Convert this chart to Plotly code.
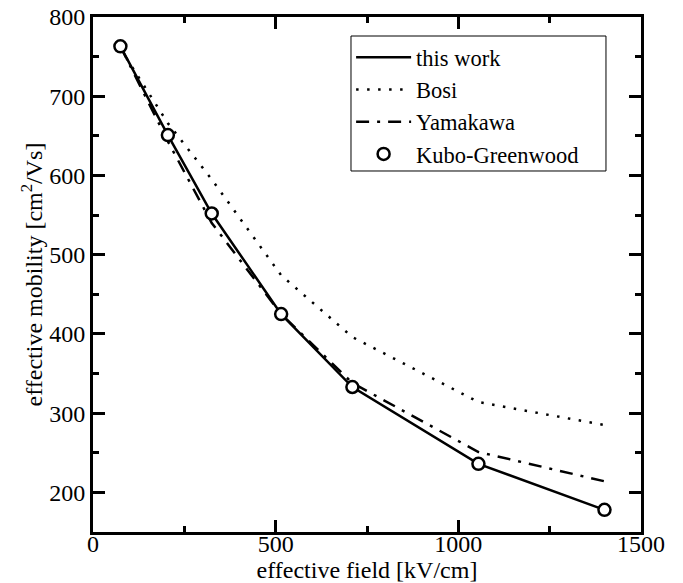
import plotly.graph_objects as go

# Data
field = [75, 205, 325, 515, 710, 1055, 1400]
this_work = [763, 651, 552, 425, 333, 236, 178]
bosi = [760, 666, 595, 474, 396, 314, 285]
yamakawa = [763, 643, 540, 425, 338, 251, 214]
kubo_greenwood = [763, 651, 552, 425, 333, 236, 178]

x_ticks = [0, 500, 1000, 1500]
y_ticks = [200, 300, 400, 500, 600, 700, 800]

FONT = "Liberation Serif, Times New Roman, Times, serif"

fig = go.Figure()
fig.add_trace(go.Scatter(x=field, y=this_work, mode="lines", name="this work",
                         line=dict(color="black", width=2.5)))
fig.add_trace(go.Scatter(x=field, y=bosi, mode="lines", name="Bosi",
                         line=dict(color="black", width=2.5, dash="2.5px,8.5px")))
fig.add_trace(go.Scatter(x=field, y=yamakawa, mode="lines", name="Yamakawa",
                         line=dict(color="black", width=2.5, dash="13px,8px,3px,8px")))
fig.add_trace(go.Scatter(x=field, y=kubo_greenwood, mode="markers", name="Kubo-Greenwood",
                         marker=dict(symbol="circle", size=12, color="white",
                                     line=dict(color="black", width=2.5))))

axis_common = dict(
    showgrid=False, zeroline=False, showline=True, linecolor="black", linewidth=3,
    mirror="ticks", ticks="inside", ticklen=12, tickwidth=2.5, tickcolor="black",
    tickfont=dict(family=FONT, size=24, color="black"),
    automargin=False,
)

fig.update_layout(
    width=683, height=583, autosize=False,
    paper_bgcolor="white", plot_bgcolor="white",
    margin=dict(l=93, r=42, t=17, b=51),
    font=dict(family=FONT, size=24, color="black"),
    xaxis=dict(range=[0, 1500], tickvals=x_ticks, ticktext=[str(v) for v in x_ticks],
               minor=dict(ticks="inside", ticklen=6, tickwidth=2.5, tickcolor="black", dtick=250, tick0=0),
               title=dict(text="effective field [kV/cm]", standoff=10,
                          font=dict(family=FONT, size=24, color="black")),
               ticklabelstandoff=-12,
               **axis_common),
    yaxis=dict(range=[150, 800], tickvals=y_ticks, ticktext=[str(v) for v in y_ticks],
               minor=dict(ticks="inside", ticklen=6, tickwidth=2.5, tickcolor="black", dtick=50, tick0=0),
               title=dict(text="effective mobility [cm<sup>2</sup>/Vs]", standoff=0,
                          font=dict(family=FONT, size=24, color="black")),
               ticklabelstandoff=0,
               **axis_common),
    legend=dict(x=0.471, y=0.963, xanchor="left", yanchor="top",
                borderwidth=0, bgcolor="rgba(0,0,0,0)",
                font=dict(family=FONT, size=22.5, color="black"),
                itemwidth=55, tracegroupgap=0),
    showlegend=True,
    shapes=[dict(type="rect", xref="paper", yref="paper",
                 x0=0.4708, x1=0.9361, y0=0.7010, y1=0.9631,
                 line=dict(color="black", width=1), fillcolor="white", layer="above")],
)

fig.write_html("out.html", config={"displayModeBar": False},
               post_script="document.body.style.margin='0';document.body.style.padding='0';")
